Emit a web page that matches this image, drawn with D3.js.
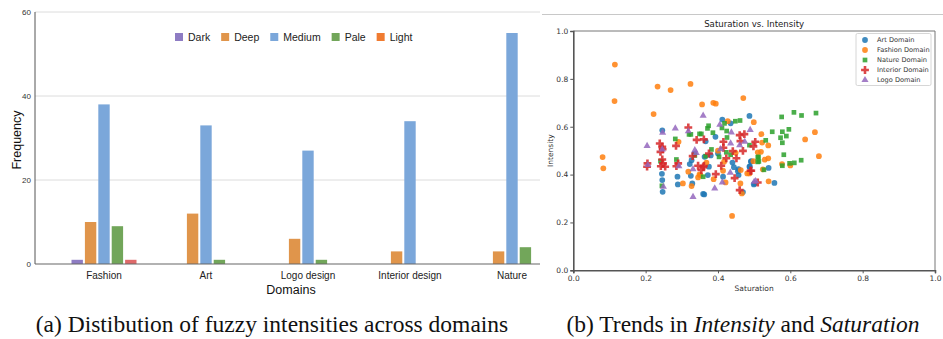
<!DOCTYPE html>
<html><head><meta charset="utf-8">
<script src="https://cdn.jsdelivr.net/npm/d3@7/dist/d3.min.js"></script>
<style>html,body{margin:0;padding:0;background:#fff;}svg{display:block;}</style>
</head><body>
<svg id="c" width="943" height="339"></svg>
<script>
// ---------- (a) bar chart data ----------
const domains = ["Fashion", "Art", "Logo design", "Interior design", "Nature"];
const levels = ["Dark", "Deep", "Medium", "Pale", "Light"];
const darkVals = [1, 0, 0, 0, 0];
const deepVals = [10, 12, 6, 3, 3];
const mediumVals = [38, 33, 27, 34, 55];
const paleVals = [9, 1, 1, 0, 4];
const lightVals = [1, 0, 0, 0, 0];
const barTicks = [0, 20, 40, 60];
const barColors = ["#8e7cc3", "#e0954b", "#7ba7da", "#72a65a", "#df6a6a"];
const legendColors = ["#8e7cc3", "#e0954b", "#7ba7da", "#72a65a", "#f07b30"];

// ---------- (b) scatter data [saturation, intensity] ----------
const artPts = [[.246,.585],[.487,.645],[.412,.63],[.435,.614],[.393,.558],[.366,.539],[.4,.488],[.444,.431],[.457,.423],[.491,.454],[.487,.433],[.375,.433],[.372,.398],[.414,.391],[.457,.398],[.501,.363],[.362,.317],[.245,.403],[.246,.377],[.247,.328],[.288,.391],[.289,.359],[.327,.46],[.322,.444],[.325,.395],[.329,.363],[.335,.488],[.363,.474],[.359,.319],[.54,.428],[.556,.365],[.499,.359],[.469,.327],[.492,.456],[.488,.433],[.455,.414],[.38,.48],[.44,.45]];
const fashionPts = [[.115,.86],[.114,.707],[.233,.768],[.269,.753],[.324,.779],[.222,.653],[.356,.693],[.387,.70],[.394,.696],[.47,.72],[.081,.473],[.083,.426],[.439,.227],[.499,.619],[.668,.577],[.641,.547],[.679,.477],[.577,.444],[.60,.438],[.529,.462],[.539,.468],[.519,.495],[.54,.372],[.466,.321],[.481,.405],[.498,.456],[.463,.419],[.427,.623],[.52,.569],[.522,.534],[.539,.522],[.449,.491],[.51,.493],[.417,.454],[.524,.422],[.349,.401],[.388,.381],[.414,.416],[.421,.367],[.462,.363],[.487,.405],[.291,.537],[.303,.363],[.318,.412],[.345,.388],[.351,.398],[.327,.352],[.368,.45],[.4,.5]];
const naturePts = [[.576,.641],[.61,.66],[.631,.647],[.671,.657],[.55,.579],[.578,.579],[.596,.589],[.573,.554],[.589,.561],[.532,.543],[.578,.533],[.582,.483],[.63,.46],[.598,.447],[.611,.449],[.578,.437],[.527,.42],[.51,.453],[.512,.474],[.371,.593],[.374,.604],[.448,.623],[.461,.626],[.418,.614],[.411,.595],[.424,.582],[.386,.575],[.354,.57],[.425,.555],[.487,.523],[.382,.505],[.423,.493],[.435,.483],[.403,.474],[.366,.477],[.51,.472],[.513,.455],[.359,.391],[.282,.549],[.32,.568],[.325,.568],[.349,.57],[.241,.456],[.245,.353],[.285,.463],[.336,.48]];
const interiorPts = [[.46,.565],[.473,.569],[.415,.537],[.462,.54],[.503,.537],[.498,.518],[.415,.512],[.441,.498],[.469,.499],[.375,.488],[.423,.468],[.451,.468],[.492,.416],[.361,.436],[.354,.419],[.409,.437],[.394,.402],[.446,.385],[.46,.335],[.51,.367],[.49,.416],[.318,.597],[.284,.52],[.341,.545],[.361,.547],[.239,.53],[.246,.516],[.247,.506],[.241,.495],[.205,.447],[.204,.433],[.246,.463],[.248,.447],[.254,.433],[.242,.435],[.29,.447],[.285,.435],[.33,.477],[.345,.437],[.359,.431]];
const logoPts = [[.359,.646],[.204,.52],[.282,.593],[.405,.608],[.489,.587],[.437,.576],[.46,.523],[.435,.53],[.474,.537],[.407,.506],[.434,.408],[.412,.367],[.391,.342],[.504,.373],[.247,.575],[.318,.581],[.206,.44],[.249,.349],[.292,.435],[.331,.423],[.331,.307],[.336,.502],[.34,.49],[.246,.505],[.5,.37]];
const scatterNames = ["Art Domain", "Fashion Domain", "Nature Domain", "Interior Domain", "Logo Domain"];
const scatterColors = ["#1f77b4", "#ff7f0e", "#2ca02c", "#d62728", "#9467bd"];
const scatterTicks = [0, 0.2, 0.4, 0.6, 0.8, 1.0];

const svg = d3.select("#c");

// ================= (a) =================
(function(){
  const series = [darkVals, deepVals, mediumVals, paleVals, lightVals];
  const left = 35, right = 540, top = 12, bottom = 264;
  const y = d3.scaleLinear().domain([0, 60]).range([bottom, top]);
  const x0 = d3.scaleBand().domain(domains).range([53, 563]);
  const groupW = 65;
  const x1 = d3.scaleBand().domain(levels).range([0, groupW]).paddingInner(0.15);
  const g = svg.append("g");
  g.selectAll("line.grid").data(barTicks.filter(t => t > 0)).join("line")
    .attr("x1", left).attr("x2", right).attr("y1", d => y(d)).attr("y2", d => y(d))
    .attr("stroke", "#dcdcdc").attr("stroke-width", 1);
  g.selectAll("text.yt").data(barTicks).join("text")
    .attr("x", 31).attr("y", d => y(d)).attr("dy", "0.35em").attr("text-anchor", "end")
    .attr("font-family", "Liberation Sans, Arial, sans-serif").attr("font-size", 8).attr("fill", "#333")
    .text(d => d);
  const groups = g.selectAll("g.grp").data(domains).join("g")
    .attr("transform", d => `translate(${x0(d) + (x0.bandwidth() - groupW) / 2},0)`);
  groups.selectAll("rect").data((d, i) => levels.map((l, j) => ({l, j, v: series[j][i]}))).join("rect")
    .filter(d => d.v > 0)
    .attr("x", d => x1(d.l)).attr("width", x1.bandwidth())
    .attr("y", d => y(d.v)).attr("height", d => y(0) - y(d.v))
    .attr("fill", d => barColors[d.j]);
  g.append("line").attr("x1", left).attr("x2", left).attr("y1", top).attr("y2", bottom).attr("stroke", "#555").attr("stroke-width", 1);
  g.append("line").attr("x1", left).attr("x2", right).attr("y1", bottom).attr("y2", bottom).attr("stroke", "#666").attr("stroke-width", 1.2);
  g.selectAll("text.cat").data(domains).join("text")
    .attr("x", d => x0(d) + x0.bandwidth() / 2).attr("y", 278.5).attr("text-anchor", "middle")
    .attr("font-family", "Liberation Sans, Arial, sans-serif").attr("font-size", 10).attr("fill", "#222")
    .text(d => d);
  g.append("text").attr("x", 291).attr("y", 294).attr("text-anchor", "middle")
    .attr("font-family", "Liberation Sans, Arial, sans-serif").attr("font-size", 12.5).attr("fill", "#111")
    .text("Domains");
  g.append("text").attr("transform", "translate(21,140) rotate(-90)").attr("text-anchor", "middle")
    .attr("font-family", "Liberation Sans, Arial, sans-serif").attr("font-size", 12.5).attr("fill", "#111")
    .text("Frequency");
  let lx = 175;
  levels.forEach((l, i) => {
    g.append("rect").attr("x", lx).attr("y", 33).attr("width", 8).attr("height", 8).attr("fill", legendColors[i]);
    const t = g.append("text").attr("x", lx + 13).attr("y", 37).attr("dy", "0.35em")
      .attr("font-family", "Liberation Sans, Arial, sans-serif").attr("font-size", 10.5).attr("fill", "#222").text(l);
    lx += 13 + t.node().getComputedTextLength() + 11;
  });
})();

// ================= (b) =================
(function(){
  const x = d3.scaleLinear().domain([0, 1]).range([573.3, 935]);
  const y = d3.scaleLinear().domain([0, 1]).range([270.3, 31]);
  const g = svg.append("g");
  const font = "DejaVu Sans, sans-serif";
  g.append("line").attr("x1", 542).attr("x2", 943).attr("y1", 14.5).attr("y2", 14.5).attr("stroke", "#c8c8c8").attr("stroke-width", 1);
  g.append("text").attr("x", (x(0) + x(1)) / 2).attr("y", 26.5).attr("text-anchor", "middle")
    .attr("font-family", font).attr("font-size", 8.6).attr("fill", "#222").text("Saturation vs. Intensity");
  g.append("line").attr("x1", x(0)).attr("x2", x(1)).attr("y1", y(1)).attr("y2", y(1)).attr("stroke", "#777").attr("stroke-width", 1);
  g.append("line").attr("x1", x(1)).attr("x2", x(1)).attr("y1", y(1)).attr("y2", y(0)).attr("stroke", "#777").attr("stroke-width", 1);
  const xa = g.append("g").attr("transform", `translate(0,${y(0)})`)
    .call(d3.axisBottom(x).tickValues(scatterTicks).tickFormat(d3.format(".1f")).tickSize(3).tickPadding(2));
  const ya = g.append("g").attr("transform", `translate(${x(0)},0)`)
    .call(d3.axisLeft(y).tickValues(scatterTicks).tickFormat(d3.format(".1f")).tickSize(3).tickPadding(2));
  [xa, ya].forEach(a => {
    a.select(".domain").attr("stroke", "#555").attr("stroke-width", 1.6);
    a.selectAll(".tick line").attr("stroke", "#555");
    a.selectAll("text").attr("font-family", font).attr("font-size", 7.5).attr("fill", "#333");
  });
  g.append("text").attr("x", (x(0) + x(1)) / 2).attr("y", 291).attr("text-anchor", "middle")
    .attr("font-family", font).attr("font-size", 7.5).attr("fill", "#333").text("Saturation");
  g.append("text").attr("transform", `translate(553,${(y(0) + y(1)) / 2}) rotate(-90)`).attr("text-anchor", "middle")
    .attr("font-family", font).attr("font-size", 7.5).attr("fill", "#333").text("Intensity");
  const sets = [artPts, fashionPts, naturePts, interiorPts, logoPts];
  const symbols = [d3.symbolCircle, d3.symbolCircle, d3.symbolSquare, d3.symbolCross, d3.symbolTriangle];
  const sizes = [26, 26, 22, 34, 22];
  sets.forEach((pts, i) => {
    const sym = d3.symbol().type(symbols[i]).size(sizes[i]);
    g.selectAll(null).data(pts).join("path")
      .attr("d", sym).attr("transform", d => `translate(${x(d[0])},${y(d[1])})`)
      .attr("fill", scatterColors[i]).attr("fill-opacity", 0.85);
  });
  const lg = g.append("g");
  lg.append("rect").attr("x", 856).attr("y", 33.5).attr("width", 75).attr("height", 52).attr("rx", 1.5)
    .attr("fill", "#fff").attr("fill-opacity", 0.85).attr("stroke", "#ccc").attr("stroke-width", 0.8);
  scatterNames.forEach((n, i) => {
    const yy = 40 + i * 10;
    lg.append("path").attr("d", d3.symbol().type(symbols[i]).size(sizes[i])())
      .attr("transform", `translate(865,${yy})`).attr("fill", scatterColors[i]).attr("fill-opacity", 0.85);
    lg.append("text").attr("x", 877).attr("y", yy).attr("dy", "0.35em")
      .attr("font-family", font).attr("font-size", 6.6).attr("fill", "#333").text(n);
  });
})();

// ================= captions =================
const capFont = "Liberation Serif, Times New Roman, serif";
svg.append("text").attr("x", 272).attr("y", 332).attr("text-anchor", "middle")
  .attr("font-family", capFont).attr("font-size", 23.5).attr("fill", "#111")
  .text("(a) Distibution of fuzzy intensities across domains");
const capB = svg.append("text").attr("x", 743).attr("y", 332).attr("text-anchor", "middle")
  .attr("font-family", capFont).attr("font-size", 23.5).attr("fill", "#111");
capB.append("tspan").text("(b) Trends in ");
capB.append("tspan").attr("font-style", "italic").text("Intensity");
capB.append("tspan").text(" and ");
capB.append("tspan").attr("font-style", "italic").text("Saturation");
</script>
</body></html>
